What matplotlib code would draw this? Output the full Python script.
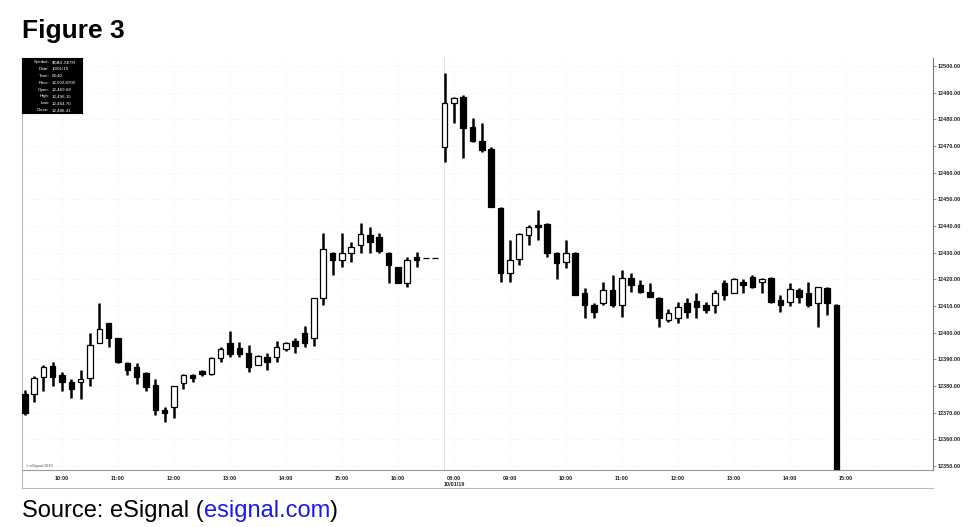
import numpy as np
import matplotlib
matplotlib.use('Agg')
import matplotlib.pyplot as plt
from matplotlib.lines import Line2D

plt.rcParams['font.family'] = ['Liberation Sans', 'DejaVu Sans']

# 10 minute bars, 10/01/19 from 09:20 and 10/02/19 from 07:50
opens = [12377, 12377, 12383.5, 12387.5, 12384, 12381.5, 12381.5, 12383, 12396, 12403.5,
         12398, 12388.5, 12387, 12385, 12380.4, 12371, 12372, 12381, 12384, 12385.5,
         12384.5, 12390.5, 12396, 12394.3, 12392.5, 12388, 12391, 12391, 12394, 12397,
         12400, 12398, 12413, 12430, 12427.3, 12430, 12433, 12436.6, 12436, 12430,
         12424.6, 12418.6, 12428.4, 12428, 12428,
         12469.6, 12486, 12488.4, 12477, 12472, 12469, 12446.8, 12422.4, 12427.6, 12436.6,
         12440.4, 12440.7, 12430, 12426.5, 12430, 12415, 12410.4, 12411, 12416, 12410.4,
         12420.5, 12418, 12415.3, 12413, 12404.8, 12405.5, 12411, 12412, 12410.4, 12410.4,
         12418.6, 12415, 12419, 12421, 12419, 12420.5, 12412.3, 12411.5, 12416, 12415,
         12411, 12416.8, 12410.5]
highs = [12378.5, 12383.8, 12388, 12389, 12385.3, 12382.6, 12386, 12400, 12411, 12403.6,
         12398, 12389, 12388.6, 12385.3, 12382.6, 12372, 12380, 12384.5, 12384.5, 12386,
         12391, 12394.7, 12400.6, 12396.5, 12395.4, 12391.6, 12392.5, 12397, 12396.5, 12398,
         12402.5, 12413, 12437.4, 12430.3, 12437.4, 12434, 12441, 12439.6, 12437.4, 12430.3,
         12424.8, 12428.4, 12430.3, 12428, 12428,
         12497.4, 12488.4, 12489, 12480.5, 12478.6, 12469.6, 12447, 12434.8, 12437.4, 12440.4,
         12446, 12441, 12430.3, 12434.8, 12430.3, 12416.8, 12411, 12419, 12421.6, 12423.5,
         12422.4, 12419.8, 12418.6, 12413.4, 12409, 12411.5, 12413, 12415, 12411.5, 12416,
         12419.8, 12420.5, 12420, 12421.6, 12420.5, 12421, 12414, 12418.6, 12416.8, 12419,
         12417, 12417, 12410.8]
lows = [12369, 12374, 12378, 12380, 12378, 12375.5, 12375, 12380, 12396, 12394.7,
        12388.6, 12384, 12380.8, 12378, 12369, 12366.5, 12368, 12379, 12381.5, 12383.7,
        12384.3, 12389, 12391, 12391, 12385.3, 12388, 12386, 12389, 12393, 12392.4,
        12394.7, 12395, 12410.4, 12421.6, 12424.6, 12426.5, 12430, 12430, 12430, 12418.6,
        12418.6, 12417, 12424.6, 12428, 12428,
        12464, 12478.6, 12465.5, 12471.5, 12467.8, 12447, 12419, 12419, 12425.4, 12432.9,
        12434.8, 12428.4, 12420, 12424.3, 12414, 12405.5, 12405.5, 12410.4, 12409.6, 12406,
        12415.3, 12415, 12413.4, 12402, 12404, 12403.6, 12405.5, 12405.5, 12407.4, 12407.4,
        12412.3, 12415, 12415, 12416.8, 12415, 12411, 12407.8, 12410, 12411, 12409.6,
        12402, 12406.6, 12330]
closes = [12370, 12383, 12387, 12383.5, 12381.5, 12379, 12382.6, 12395.5, 12401.5, 12398,
          12389, 12386, 12383.4, 12379.6, 12371, 12370, 12380, 12384, 12383, 12384.5,
          12390.5, 12394, 12392, 12392, 12387, 12391.3, 12389, 12394.7, 12396, 12395,
          12396, 12413, 12431.4, 12427.3, 12430, 12432, 12437, 12434, 12430.5, 12425.4,
          12418.8, 12427.3, 12427.3, 12428, 12428,
          12486, 12488, 12476.8, 12472, 12468.5, 12447.2, 12422.4, 12427.3, 12437, 12439.6,
          12439.6, 12430, 12426, 12430, 12414.2, 12410.4, 12407.8, 12416, 12410.4, 12420.5,
          12418, 12415.3, 12413.4, 12405.5, 12407.4, 12409.6, 12407.8, 12409.6, 12408.5, 12415,
          12414, 12420, 12418, 12417, 12420, 12411.5, 12410.4, 12416.4, 12413.4, 12410.4,
          12417, 12411, 12335]

# hour labels on the bar axis (day 1 starts 09:20, day 2 starts 07:50)
hour_labels = ['10:00', '11:00', '12:00', '13:00', '14:00', '15:00', '16:00',
               '08:00\n10/01/19', '09:00', '10:00', '11:00', '12:00', '13:00', '14:00', '15:00']
hour_bars = [4, 10, 16, 22, 28, 34, 40, 46, 52, 58, 64, 70, 76, 82, 88]
price_ticks = list(range(12350, 12501, 10))

info_keys = ['Symbol:', 'Date:', 'Time:', 'Price:', 'Open:', 'High:', 'Low:', 'Close:']
info_vals = ['$DAX-XETR', '10/01/19', '08:40', '12,502.8700', '12,469.68',
             '12,496.15', '12,464.70', '12,486.41']

o = np.array(opens)
h = np.array(highs)
l = np.array(lows)
c = np.array(closes)
x = np.arange(len(o))
up = c >= o

fig = plt.figure(figsize=(9.74, 5.27), dpi=100)
ax = fig.add_axes([22 / 974, 1 - 470 / 527, 911 / 974, 412 / 527])

# faint dotted grid
for p in price_ticks:
    ax.axhline(p, color='#e8e8e8', lw=0.6, ls=(0, (1, 3)), zorder=0)
for b in hour_bars:
    ax.axvline(b, color='#e8e8e8', lw=0.6, ls=(0, (1, 3)), zorder=0)
ax.axvline(44.95, color='#e0e0e0', lw=0.7, zorder=0)

# candles
ax.vlines(x, l, h, color='black', lw=1.8, zorder=2)
ax.bar(x[up], c[up] - o[up], bottom=o[up], width=0.6, color='white',
       edgecolor='black', linewidth=0.9, zorder=3)
ax.bar(x[~up], o[~up] - c[~up], bottom=c[~up], width=0.6, color='black',
       edgecolor='black', linewidth=0.9, zorder=3)

ax.set_xlim(-0.29, 97.35)
ax.set_ylim(12348.5, 12503)

ax.yaxis.tick_right()
ax.set_yticks(price_ticks)
ax.set_yticklabels([f'{p:.2f}' for p in price_ticks], fontsize=4, color='#222222',
                   fontweight='bold')
ax.tick_params(axis='y', length=2, width=0.5, pad=1.5, color='#666666')
ax.set_xticks(hour_bars)
ax.set_xticklabels(hour_labels, fontsize=4, color='#222222', linespacing=1.3,
                   fontweight='bold')
ax.tick_params(axis='x', length=0, pad=4)

ax.spines['top'].set_visible(False)
ax.spines['left'].set_color('#bbbbbb')
ax.spines['bottom'].set_color('#999999')
ax.spines['right'].set_color('#777777')
for s in ['left', 'bottom', 'right']:
    ax.spines[s].set_linewidth(0.8)

# frame below the tick labels
fig.add_artist(Line2D([22 / 974, 933 / 974], [1 - 488 / 527] * 2, color='#bbbbbb', lw=0.8))
fig.add_artist(Line2D([22 / 974] * 2, [1 - 488 / 527, 1 - 470 / 527], color='#bbbbbb', lw=0.8))

# cursor info box
box = fig.add_axes([22 / 974, 1 - 113 / 527, 60 / 974, 55 / 527])
box.set_facecolor('black')
box.set_xticks([])
box.set_yticks([])
for i, (k, v) in enumerate(zip(info_keys, info_vals)):
    yy = 1 - (i + 0.6) / len(info_keys)
    box.text(0.46, yy, k, color='white', fontsize=3.2, ha='right', va='center')
    box.text(0.5, yy, v, color='white', fontsize=3.2, ha='left', va='center')

ax.text(0.004, 0.006, '\u00a9 eSignal 2019', transform=ax.transAxes, fontsize=2.8,
        color='#555555', va='bottom')

fig.text(22 / 974, 1 - 31 / 527, 'Figure 3', fontsize=19, fontweight='bold',
         va='center', ha='left')
t1 = fig.text(22 / 974, 1 - 511 / 527, 'Source: eSignal (', fontsize=17,
              va='center', ha='left')
fig.canvas.draw()
bb = t1.get_window_extent()
t2 = fig.text(bb.x1 / fig.bbox.width, 1 - 511 / 527, 'esignal.com', fontsize=17,
              va='center', ha='left', color='#1a1aee')
bb2 = t2.get_window_extent()
fig.text(bb2.x1 / fig.bbox.width, 1 - 511 / 527, ')', fontsize=17, va='center', ha='left')

fig.savefig('out.png', dpi=100)
